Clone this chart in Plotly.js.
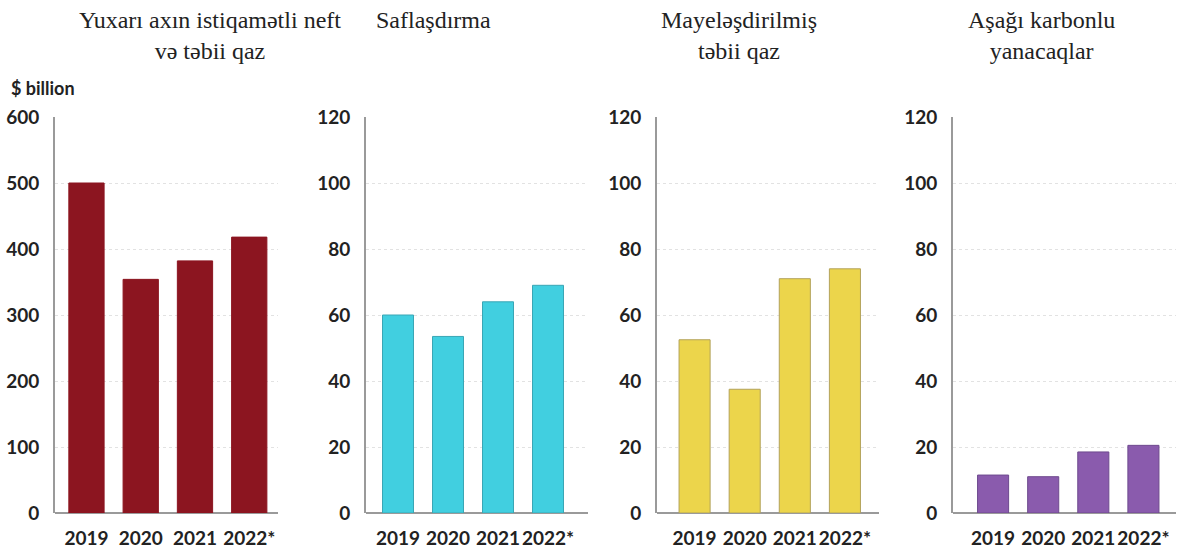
<!DOCTYPE html>
<html>
<head>
<meta charset="utf-8">
<script src="https://cdn.plot.ly/plotly-3.0.1.min.js"></script>
<style>html,body{margin:0;padding:0;background:#fff;}#chart{width:1187px;height:552px;}</style>
</head>
<body>
<div id="chart"></div>
<script>
// ---- data ----
const years = ["2019", "2020", "2021", "2022*"];
const upstream = [500, 354, 382, 418];
const refining = [60, 53.5, 64, 69];
const lng = [52.5, 37.5, 71, 74];
const lowCarbon = [11.5, 11, 18.5, 20.5];
const panelTitles = [
  "Yuxarı axın istiqamətli neft<br>və təbii qaz",
  "Saflaşdırma",
  "Mayeləşdirilmiş<br>təbii qaz",
  "Aşağı karbonlu<br>yanacaqlar"
];
const unitLabel = "$ billion";

// ---- layout helpers ----
const W = 1187, H = 552;
const px = v => v / W;
const py = v => 1 - v / H;
const yDom = [py(513), py(117)];
const xDoms = [[px(55), px(278)], [px(366), px(588)], [px(657), px(879)], [px(953), px(1176)]];
const xRanges = [[-0.58, 3.53], [-0.64, 3.8], [-0.75, 3.68], [-0.8, 3.65]];
const series = [upstream, refining, lng, lowCarbon];
const fills = ["#8C1520", "#41CFE0", "#ECD54B", "#8A5BAD"];
const lines = ["#8C1520", "#3AA6B5", "#B3A25A", "#6E4A8E"];
const widths = [0.65, 0.62, 0.62, 0.62];
const yMax = [600, 120, 120, 120];
const titleX = [210, 433, 739, 1041];
const titleY = [36, 20, 36, 36];

const tickFont = {family: "Lato, 'Open Sans', sans-serif", size: 19, color: "#222", weight: 700};

const traces = [];
const layout = {
  width: W, height: H,
  margin: {l: 0, r: 0, t: 0, b: 0},
  paper_bgcolor: "#fff", plot_bgcolor: "#fff",
  showlegend: false,
  annotations: []
};

series.forEach((vals, i) => {
  const n = i === 0 ? "" : String(i + 1);
  traces.push({
    type: "bar",
    x: years,
    y: vals,
    xaxis: "x" + n,
    yaxis: "y" + n,
    width: widths[i],
    marker: {color: fills[i], line: {color: lines[i], width: 1}},
    hoverinfo: "x+y"
  });
  layout["xaxis" + n] = {
    domain: xDoms[i],
    anchor: "y" + n,
    type: "category",
    categoryorder: "array",
    categoryarray: years,
    range: xRanges[i],
    showgrid: false,
    zeroline: false,
    showline: false,
    ticks: "",
    tickangle: 0,
    tickfont: tickFont,
    ticklabelstandoff: 12,
    fixedrange: true
  };
  layout["yaxis" + n] = {
    domain: yDom,
    anchor: "x" + n,
    range: [0, yMax[i]],
    dtick: yMax[i] / 6,
    showgrid: true,
    gridcolor: "#e2e2e2",
    griddash: "dot",
    gridwidth: 1,
    zeroline: true,
    zerolinecolor: "#9a9a9a",
    zerolinewidth: 2,
    showline: true,
    linecolor: "#9a9a9a",
    linewidth: 2,
    ticks: "",
    tickfont: tickFont,
    ticklabelstandoff: 10,
    fixedrange: true
  };
  layout.annotations.push({
    xref: "paper", yref: "paper",
    x: px(titleX[i]), y: py(titleY[i]),
    xanchor: "center", yanchor: "middle",
    align: "center",
    showarrow: false,
    text: panelTitles[i],
    font: {family: "'Liberation Serif', 'DejaVu Serif', serif", size: 24, color: "#222"}
  });
});

layout.annotations.push({
  xref: "paper", yref: "paper",
  x: px(9), y: py(88),
  xanchor: "left", yanchor: "middle",
  showarrow: false,
  text: unitLabel,
  font: {family: "Lato, 'Open Sans', sans-serif", size: 18, color: "#222", weight: 700}
});

Plotly.newPlot("chart", traces, layout, {displayModeBar: false, staticPlot: true});
</script>
</body>
</html>
